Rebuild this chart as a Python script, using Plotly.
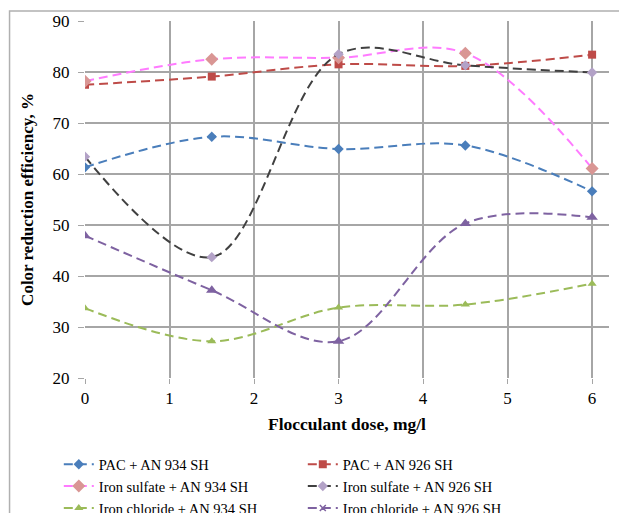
import plotly.graph_objects as go

dose = [0, 1.5, 3, 4.5, 6]
pac_934 = [61.3, 67.3, 64.9, 65.6, 56.6]
pac_926 = [77.5, 79.1, 81.5, 81.2, 83.4]
fes_934 = [78.2, 82.5, 82.8, 83.7, 61.1]
fes_926 = [63.4, 43.7, 83.5, 81.3, 79.9]
fecl_934 = [33.7, 27.2, 33.8, 34.4, 38.5]
fecl_926 = [47.9, 37.2, 27.2, 50.3, 51.5]

names = ["PAC + AN 934 SH", "PAC + AN 926 SH",
         "Iron sulfate + AN 934 SH", "Iron sulfate + AN 926 SH",
         "Iron chloride + AN 934 SH", "Iron chloride + AN 926 SH"]

FONT = "Times New Roman, Liberation Serif, serif"
DASH = "9px,5px"

styles = [
    dict(line="#4A7EBB", marker="#4A7EBB", symbol="diamond", size=8),
    dict(line="#BE4B48", marker="#BE4B48", symbol="square", size=8),
    dict(line="#FF7BFF", marker="#D99694", symbol="diamond", size=10),
    dict(line="#404040", marker="#B3A2C7", symbol="diamond", size=8),
    dict(line="#9BBB59", marker="#9BBB59", symbol="triangle-up", size=8),
    dict(line="#7E62A1", marker="#7E62A1", symbol="triangle-up", size=10),
]

series = [pac_934, pac_926, fes_934, fes_926, fecl_934, fecl_926]

fig = go.Figure()
for i, (nm, ys, st) in enumerate(zip(names, series, styles)):
    last = i == 5
    fig.add_trace(go.Scatter(
        x=dose, y=ys, name=nm, mode="lines+markers",
        line=dict(color=st["line"], width=2, dash=DASH, shape="spline", smoothing=1.0),
        marker=dict(color=st["marker"], symbol=st["symbol"], size=st["size"]),
        showlegend=not last,
    ))
    if last:
        fig.add_trace(go.Scatter(
            x=[None], y=[None], name=nm, mode="lines+markers",
            line=dict(color=st["line"], width=2, dash=DASH),
            marker=dict(color=st["marker"], symbol="x-thin-open", size=6,
                        line=dict(color=st["marker"], width=1.5)),
            showlegend=True,
        ))

fig.update_layout(
    width=627, height=513,
    margin=dict(l=77, r=26, t=13, b=143, autoexpand=False),
    paper_bgcolor="white", plot_bgcolor="white",
    font=dict(family=FONT, size=17, color="black"),
    showlegend=True,
    legend=dict(orientation="h", x=-0.05, xanchor="left", y=-0.197, yanchor="top",
                entrywidth=199, entrywidthmode="pixels", itemwidth=30,
                font=dict(family=FONT, size=14.5, color="black"), tracegroupgap=0,
                itemsizing="trace"),
    shapes=[dict(type="rect", xref="paper", yref="paper",
                 x0=-0.144, x1=1.08, y0=-0.5, y1=1.028,
                 line=dict(color="#B0B0B0", width=1.5), layer="below")],
)
fig.update_xaxes(range=[0, 6.2], tickvals=[0, 1, 2, 3, 4, 5, 6],
                 showgrid=True, gridcolor="#A6A6A6", gridwidth=1.5,
                 ticks="outside", ticklen=5, tickcolor="#A6A6A6",
                 zeroline=False, showline=False, automargin=False,
                 tickfont=dict(family=FONT, size=17, color="black"),
                 title=dict(text="<b>Flocculant dose, mg/l</b>", standoff=10,
                            font=dict(family=FONT, size=17.5, color="black")))
fig.update_yaxes(range=[20, 90], tickvals=[20, 30, 40, 50, 60, 70, 80, 90],
                 showgrid=True, gridcolor="#A6A6A6", gridwidth=1.5,
                 ticks="outside", ticklen=6, tickcolor="#A6A6A6",
                 ticklabelstandoff=5,
                 zeroline=False, showline=False, automargin=False,
                 tickfont=dict(family=FONT, size=17, color="black"),
                 title=dict(text="<b>Color reduction efficiency, %</b>", standoff=14,
                            font=dict(family=FONT, size=17, color="black")))

fig.write_html("out.html")
